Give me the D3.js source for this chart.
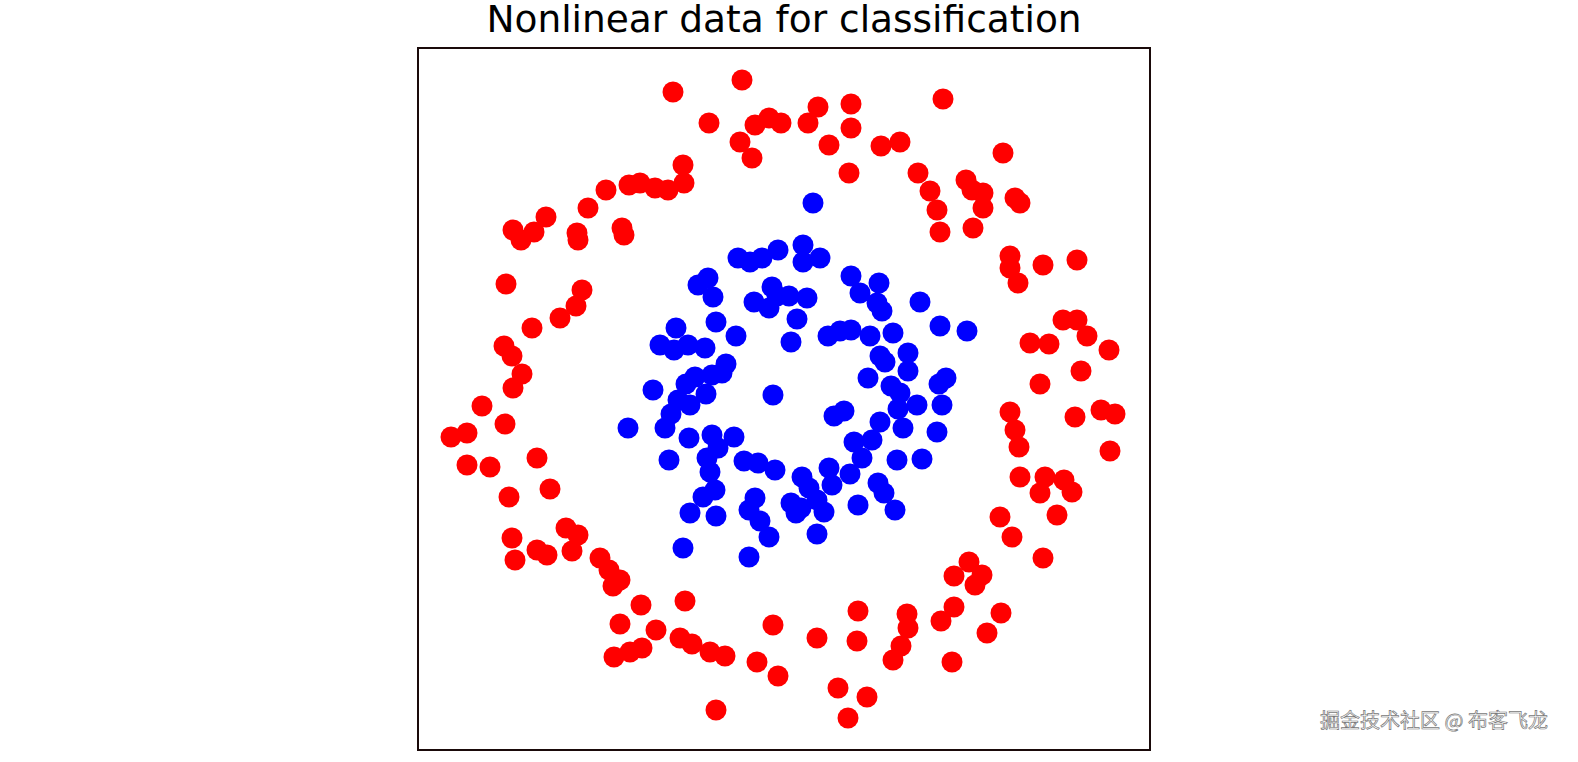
<!DOCTYPE html>
<html>
<head>
<meta charset="UTF-8"/>
<title>Nonlinear data for classification</title>
<script src="https://d3js.org/d3.v7.min.js"></script>
<style>
  html, body { margin: 0; background: #fff; font-family: 'DejaVu Sans', sans-serif; overflow: hidden; }
  svg { display: block; }
  .title { font-size: 37.5px; }
  .mark { font-family: 'Noto Sans CJK SC', sans-serif; font-size: 20px; fill: #fff; stroke: #777; stroke-width: 0.7px; }
</style>
</head>
<body>
<svg width="1578" height="762"></svg>
<script>
// outer ring (class 0)
var redX = [-1.11,-0.42,-0.75,-0.29,-0.15,-0.03,0.34,0.67,1.59,-0.44,-0.32,0.24,0.67,0.45,0.97,1.16,0.65,2.19,-1.01,-1.78,-1.55,-1.44,-1.29,-1.16,-1.00,1.34,1.46,1.82,1.88,1.99,2.31,2.36,1.53,1.99,1.56,1.89,-1.96,-2.38,-2.71,-2.50,-2.63,-2.07,-2.06,-1.62,-1.60,2.26,2.59,2.93,2.26,2.34,-2.78,-2.02,-2.08,-2.24,-2.52,2.79,2.93,3.03,2.46,2.65,3.25,-2.80,-2.72,-2.62,-2.71,2.97,2.56,-3.02,-2.79,2.26,2.91,3.17,3.31,2.31,-3.33,-3.17,2.35,3.26,-3.17,-2.94,-2.47,2.36,2.61,2.80,2.56,2.88,-2.75,-2.34,2.73,2.16,-2.72,-2.18,-2.06,2.28,-2.47,-2.37,-2.69,-2.12,-1.84,2.59,-1.75,1.85,-1.64,1.98,1.70,1.91,-1.71,-1.43,-0.99,1.70,2.17,0.74,1.23,-1.64,-1.28,-0.11,1.57,1.24,2.03,-1.04,0.33,0.73,-0.92,1.17,-0.74,-1.70,-1.54,-1.42,-0.59,-0.27,1.09,1.68,-0.06,0.54,0.83,-0.68,0.64];
var redY = [3.07,3.19,2.76,2.74,2.81,2.76,2.92,2.95,3.00,2.57,2.41,2.76,2.71,2.54,2.53,2.57,2.26,2.46,2.34,2.09,2.14,2.16,2.11,2.09,2.16,2.26,2.08,2.19,2.09,2.06,2.01,1.96,1.89,1.91,1.67,1.71,1.91,1.82,1.69,1.67,1.59,1.66,1.59,1.71,1.64,1.43,1.34,1.39,1.31,1.16,1.15,1.09,0.93,0.81,0.71,0.79,0.79,0.63,0.56,0.55,0.49,0.53,0.43,0.25,0.11,0.28,0.15,-0.07,-0.25,-0.13,-0.18,-0.11,-0.15,-0.31,-0.38,-0.34,-0.48,-0.52,-0.66,-0.68,-0.59,-0.78,-0.78,-0.81,-0.94,-0.93,-0.98,-0.90,-1.16,-1.18,-1.39,-1.29,-1.36,-1.38,-1.51,-1.56,-1.61,-1.52,-1.59,-1.59,-1.71,-1.63,-1.81,-1.76,-1.77,-1.86,-1.87,-2.06,-2.02,-2.08,-2.14,-2.12,-2.15,-2.25,-2.31,-2.26,-2.22,-2.29,-2.34,-2.39,-2.39,-2.42,-2.45,-2.47,-2.53,-2.58,-2.53,-2.49,-2.57,-2.63,-2.61,-2.63,-2.77,-2.89,-2.98,-3.11,-3.19];
// inner ring (class 1)
var blueX = [0.29,-0.46,-0.34,-0.22,-0.06,0.19,0.19,0.36,-0.76,-0.86,-0.71,-0.30,-0.12,-0.07,-0.15,0.05,0.23,0.67,0.95,0.76,0.93,0.98,1.36,-0.68,-1.08,-0.48,0.13,0.07,0.44,0.56,0.67,0.86,1.09,1.56,1.83,-1.24,-1.10,-0.96,-0.79,-0.58,0.96,1.24,1.01,0.84,-0.89,-0.72,-0.62,-0.98,1.24,1.07,1.16,1.62,1.55,-1.31,-1.06,-0.94,-1.13,-0.78,-0.11,1.33,1.14,1.58,0.60,0.50,-1.56,-1.19,-0.95,0.96,0.70,0.88,1.19,1.53,-0.72,-0.50,-0.66,-0.40,-0.26,-0.09,-1.15,-0.77,-0.74,0.78,1.13,1.38,0.45,0.66,0.18,0.25,0.48,-0.69,-0.81,-0.29,0.94,1.00,0.07,0.17,0.33,0.40,0.74,1.11,-0.94,-0.68,-0.24,-0.15,0.12,-0.35,0.33,-1.01,-0.35];
var blueY = [1.96,1.41,1.37,1.41,1.49,1.54,1.37,1.41,1.21,1.14,1.02,0.97,1.12,1.03,0.91,1.03,1.01,1.23,1.16,1.06,0.96,0.88,0.97,0.77,0.71,0.63,0.80,0.57,0.63,0.68,0.69,0.63,0.66,0.73,0.68,0.54,0.49,0.54,0.51,0.35,0.43,0.46,0.37,0.21,0.22,0.24,0.26,0.15,0.28,0.13,0.06,0.21,0.15,0.09,-0.01,-0.06,-0.15,0.05,0.04,-0.06,-0.10,-0.06,-0.12,-0.17,-0.29,-0.29,-0.39,-0.23,-0.43,-0.41,-0.29,-0.33,-0.36,-0.38,-0.49,-0.62,-0.64,-0.71,-0.61,-0.59,-0.73,-0.59,-0.61,-0.60,-0.69,-0.75,-0.78,-0.89,-0.86,-0.91,-0.98,-0.99,-0.84,-0.94,-1.04,-1.09,-1.01,-1.13,-1.06,-1.11,-1.14,-1.17,-1.22,-1.38,-1.14,-1.11,-1.35,-1.49,-1.58];

var svg = d3.select("svg"),
    plotL = 418, plotR = 1150, plotT = 48, plotB = 750;

var x = d3.scaleLinear().domain([-3.66, 3.66]).range([plotL, plotR]),
    y = d3.scaleLinear().domain([-3.51, 3.51]).range([plotB, plotT]);

var red = redX.map(function(v, i) { return [v, redY[i]]; }),
    blue = blueX.map(function(v, i) { return [v, blueY[i]]; });

svg.append("g").selectAll("circle")
  .data(red).enter().append("circle")
    .attr("cx", function(d) { return x(d[0]); })
    .attr("cy", function(d) { return y(d[1]); })
    .attr("r", 10.5)
    .attr("fill", "#ff0000");

svg.append("g").selectAll("circle")
  .data(blue).enter().append("circle")
    .attr("cx", function(d) { return x(d[0]); })
    .attr("cy", function(d) { return y(d[1]); })
    .attr("r", 10.5)
    .attr("fill", "#0000ff");

svg.append("rect")
  .attr("x", plotL).attr("y", plotT)
  .attr("width", plotR - plotL).attr("height", plotB - plotT)
  .attr("fill", "none").attr("stroke", "#1a0a0a").attr("stroke-width", 2);

svg.append("text")
  .attr("class", "title")
  .attr("x", (plotL + plotR) / 2).attr("y", 32)
  .attr("text-anchor", "middle")
  .text("Nonlinear data for classification");

svg.append("text")
  .attr("class", "mark")
  .attr("x", 1548).attr("y", 728)
  .attr("text-anchor", "end")
  .text("掘金技术社区 @ 布客飞龙");
</script>
</body>
</html>
